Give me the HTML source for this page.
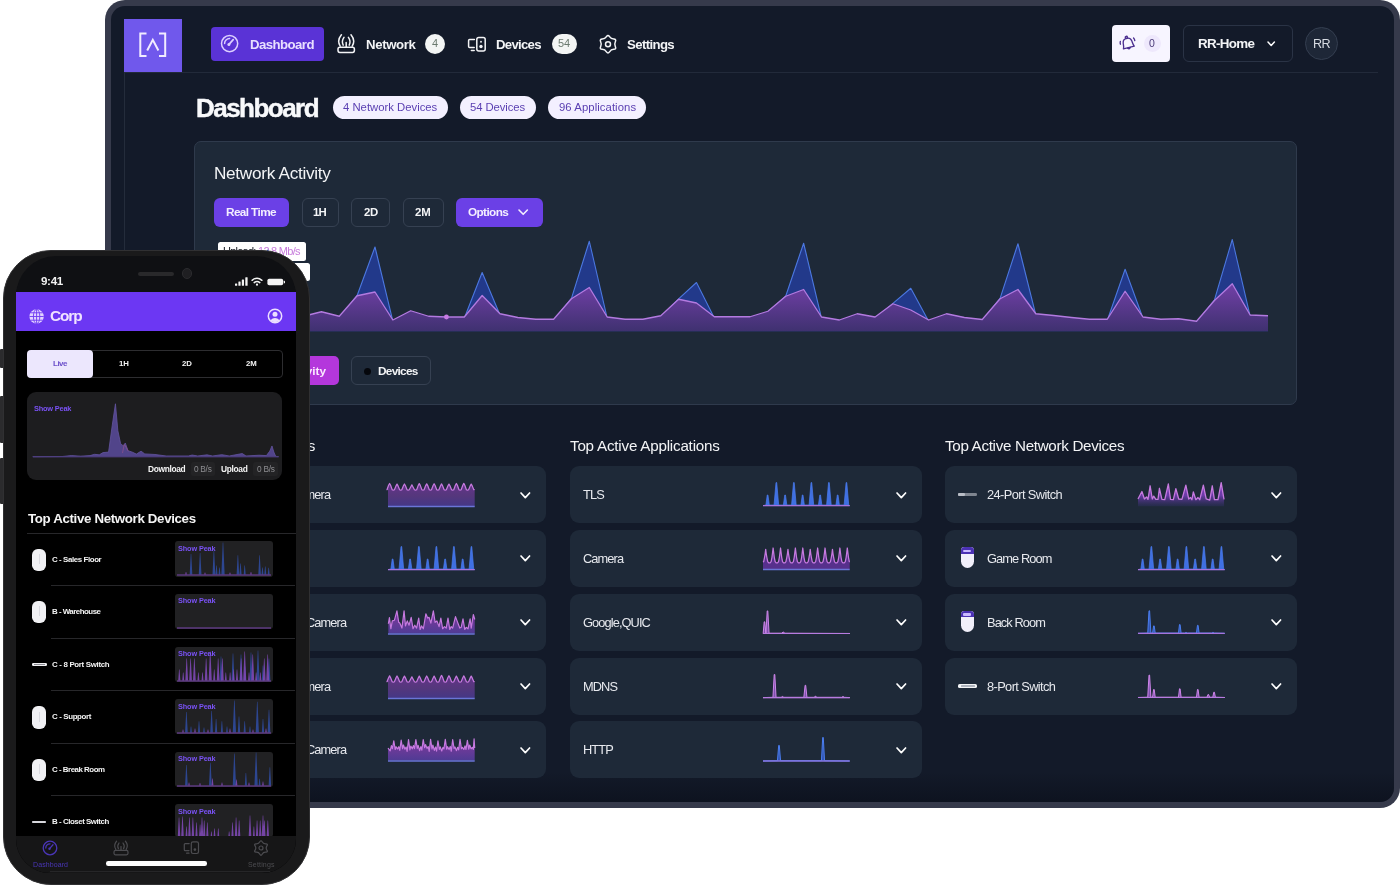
<!DOCTYPE html>
<html lang="en"><head><meta charset="utf-8"><title>Network Dashboard</title>
<style>
html,body{margin:0;padding:0;}
body{width:1400px;height:887px;position:relative;overflow:hidden;background:#fff;font-family:"Liberation Sans",sans-serif;}
.b{position:absolute;display:block;}
.t{position:absolute;white-space:nowrap;line-height:1;will-change:transform;}
#tablet,#phone,#pscreen{position:absolute;overflow:hidden;}
#root{position:absolute;left:0;top:0;width:1400px;height:887px;}
</style></head><body><div id="root">
<!-- tablet -->
<div class="b" style="left:105.30px;top:-0.50px;width:1294.50px;height:808.70px;background:#363a4b;border-radius:20px;"></div>
<div class="b" style="left:111.30px;top:6.20px;width:1282.70px;height:795.80px;background:#131a29;border-radius:14px;"></div>
<div class="b" style="left:111.30px;top:772.00px;width:1282.70px;height:30.00px;background:linear-gradient(rgba(9,13,24,0),rgba(9,13,24,0.55));border-radius:0 0 14px 14px;"></div>
<div class="b" style="left:124.00px;top:19.00px;width:57.50px;height:53.50px;background:#7058ec;"></div>
<div class="b" style="left:124.00px;top:72.00px;width:1254.00px;height:1.00px;background:#222a3a;"></div>
<div class="b" style="left:124.00px;top:72.00px;width:1.00px;height:200.00px;background:#242c3b;"></div>
<svg class="b" style="left:124.00px;top:19.60px;" width="57.50" height="53.50" viewBox="0 0 57.50 53.50">
<g fill="none" stroke="#f1ecff" stroke-width="2" stroke-linecap="square" stroke-linejoin="miter"><polyline points="21.5,13.5 16.3,13.5 16.3,36 21.5,36"/><polyline points="36,13.5 41.2,13.5 41.2,36 36,36"/><polyline points="23.2,30.5 28.8,19.8 34.4,30.5" stroke-linecap="butt"/></g>
</svg>
<div class="b" style="left:211.00px;top:27.00px;width:113.00px;height:33.50px;background:#5a33d6;border-radius:4px;"></div>
<svg class="b" style="left:219.00px;top:33.00px;" width="22.00" height="22.00" viewBox="0 0 22.00 22.00">
<g fill="none" stroke="#dccfff" stroke-width="1.5" stroke-linecap="round"><circle cx="10.6" cy="10.6" r="8.1"/><path d="M5.6,10.6 A5,5 0 0 1 10.6,5.6"/><line x1="10" y1="11.4" x2="14.2" y2="6.6" stroke-width="1.7"/></g><circle cx="9.9" cy="11.6" r="1.5" fill="#dccfff"/>
</svg>
<span class="t" style="left:249.50px;top:37.53px;font-size:13.2px;color:#e8dfff;font-weight:700;letter-spacing:-0.556px;">Dashboard</span>
<svg class="b" style="left:336.00px;top:34.00px;" width="20.00" height="20.00" viewBox="0 0 20.00 20.00">
<g fill="none" stroke="#f3f4f6" stroke-width="1.5" stroke-linecap="round"><rect x="2" y="13.2" width="16.4" height="5.2" rx="1.8"/><line x1="10.2" y1="8.6" x2="10.2" y2="13"/><path d="M5.4,0.8 Q0.6,6.6 4.2,12.2"/><path d="M15,0.8 Q19.8,6.6 16.2,12.2"/><path d="M8,3.4 Q5.2,7.2 7.2,11.2"/><path d="M12.4,3.4 Q15.2,7.2 13.2,11.2"/></g>
</svg>
<span class="t" style="left:366.00px;top:37.53px;font-size:13.2px;color:#f3f4f6;font-weight:700;letter-spacing:-0.347px;">Network</span>
<div class="b" style="left:425.00px;top:33.50px;width:20.00px;height:20.00px;background:#f3f5f4;border-radius:10px;"></div>
<span class="t" style="left:431.94px;top:38.29px;font-size:11px;color:#6b7a6f;">4</span>
<svg class="b" style="left:466.00px;top:34.00px;" width="22.00" height="20.00" viewBox="0 0 22.00 20.00">
<g fill="none" stroke="#f3f4f6" stroke-width="1.5" stroke-linecap="round" stroke-linejoin="round"><path d="M8.4,5.4 H3.6 Q2.6,5.4 2.6,6.4 V12.6 Q2.6,13.6 3.6,13.6 H8.2"/><line x1="5.4" y1="16.6" x2="8.2" y2="16.6"/><rect x="10.8" y="3.4" width="8.4" height="13.6" rx="2"/></g><circle cx="15" cy="7.8" r="0.95" fill="#f3f4f6"/><circle cx="15" cy="12.5" r="1.7" fill="#f3f4f6"/>
</svg>
<span class="t" style="left:496.40px;top:37.53px;font-size:13.2px;color:#f3f4f6;font-weight:700;letter-spacing:-0.718px;">Devices</span>
<div class="b" style="left:552.00px;top:33.50px;width:24.50px;height:20.00px;background:#f3f5f4;border-radius:10px;"></div>
<span class="t" style="left:558.08px;top:38.29px;font-size:11px;color:#6b7a6f;">54</span>
<svg class="b" style="left:597.00px;top:33.00px;" width="22.00" height="22.00" viewBox="0 0 22.00 22.00">
<path d="M9.47,3.61 Q11.00,1.30 12.52,3.61 Q14.05,5.92 16.81,6.08 Q19.57,6.25 18.34,8.72 Q17.10,11.20 18.34,13.67 Q19.57,16.15 16.81,16.32 Q14.05,16.48 12.52,18.79 Q11.00,21.10 9.48,18.79 Q7.95,16.48 5.19,16.32 Q2.43,16.15 3.66,13.68 Q4.90,11.20 3.66,8.72 Q2.43,6.25 5.19,6.08 Q7.95,5.92 9.47,3.61Z" fill="none" stroke="#f3f4f6" stroke-width="1.5" stroke-linejoin="round"/><circle cx="11" cy="11.2" r="2.5" fill="none" stroke="#f3f4f6" stroke-width="1.5"/>
</svg>
<span class="t" style="left:627.30px;top:37.53px;font-size:13.2px;color:#f3f4f6;font-weight:700;letter-spacing:-0.625px;">Settings</span>
<div class="b" style="left:1112.00px;top:25.00px;width:58.00px;height:37.00px;background:#f7f5ff;border-radius:4px;"></div>
<div class="b" style="left:1143.50px;top:34.80px;width:17.50px;height:17.50px;background:#eee8fc;border-radius:9px;"></div>
<svg class="b" style="left:1117.00px;top:33.00px;" width="22.00" height="22.00" viewBox="0 0 22.00 22.00">
<g transform="rotate(-14 11 11)" fill="none" stroke="#4b2f8f" stroke-width="1.35" stroke-linecap="round" stroke-linejoin="round"><path d="M5.4,14.6 C6.6,12.6 6.3,10.6 6.6,8.8 C7,6.4 8.8,5.2 11,5.2 C13.2,5.2 15,6.4 15.4,8.8 C15.7,10.6 15.4,12.6 16.6,14.6 Z"/><circle cx="11" cy="4.2" r="1.1"/><path d="M9.6,15 Q11,16.8 12.4,15"/><path d="M4.2,6.6 Q3.4,8 3.6,9.4"/><path d="M17.8,6.6 Q18.6,8 18.4,9.4"/></g>
</svg>
<span class="t" style="left:1149.38px;top:38.31px;font-size:10.5px;color:#4a3a78;">0</span>
<div class="b" style="left:1183.00px;top:25.00px;width:110.00px;height:37.00px;border-radius:6px;border:1px solid #2a3345;box-sizing:border-box;"></div>
<span class="t" style="left:1198.30px;top:37.06px;font-size:13.4px;color:#f3f4f6;font-weight:700;letter-spacing:-0.675px;">RR-Home</span>
<svg class="b" style="left:1266.30px;top:39.90px;" width="10.40" height="7.40" viewBox="0 0 10.40 7.40">
<polyline points="2,2 5.20,5.40 8.40,2" fill="none" stroke="#fff" stroke-width="1.5" stroke-linecap="round" stroke-linejoin="round"/>
</svg>
<div class="b" style="left:1305.40px;top:27.40px;width:32.60px;height:32.60px;background:#1e2737;border-radius:17px;border:1px solid #343e50;box-sizing:border-box;"></div>
<span class="t" style="left:1312.95px;top:37.63px;font-size:12.6px;color:#d7dbe2;letter-spacing:-0.699px;">RR</span>
<span class="t" style="left:195.60px;top:94.59px;font-size:26px;color:#f8f9fb;font-weight:700;letter-spacing:-1.526px;-webkit-text-stroke:0.45px #f8f9fb;">Dashboard</span>
<div class="b" style="left:333.40px;top:96.00px;width:114.60px;height:23.00px;background:#f3f0ff;border-radius:11.5px;"></div>
<span class="t" style="left:343.40px;top:101.93px;font-size:11.3px;color:#5a3fb2;letter-spacing:0.006px;">4 Network Devices</span>
<div class="b" style="left:460.30px;top:96.00px;width:75.40px;height:23.00px;background:#f3f0ff;border-radius:11.5px;"></div>
<span class="t" style="left:470.20px;top:101.93px;font-size:11.3px;color:#5a3fb2;letter-spacing:-0.078px;">54 Devices</span>
<div class="b" style="left:548.40px;top:96.00px;width:97.60px;height:23.00px;background:#f3f0ff;border-radius:11.5px;"></div>
<span class="t" style="left:558.70px;top:101.93px;font-size:11.3px;color:#5a3fb2;letter-spacing:0.077px;">96 Applications</span>
<div class="b" style="left:194.40px;top:141.30px;width:1102.40px;height:263.70px;background:#1e2938;border-radius:7px;border:1px solid #2f3a4c;box-sizing:border-box;"></div>
<span class="t" style="left:214.40px;top:165.34px;font-size:17.2px;color:#f3f4f6;letter-spacing:-0.299px;">Network Activity</span>
<div class="b" style="left:214.40px;top:198.00px;width:75.00px;height:29.00px;background:#6b40e6;border-radius:6px;"></div>
<span class="t" style="left:226.40px;top:206.71px;font-size:11.8px;color:#f3eeff;font-weight:700;letter-spacing:-0.616px;">Real Time</span>
<div class="b" style="left:301.60px;top:198.00px;width:37.10px;height:29.00px;border-radius:6px;border:1px solid #364152;box-sizing:border-box;"></div>
<span class="t" style="left:313.26px;top:207.05px;font-size:11.4px;color:#f3f4f6;font-weight:700;letter-spacing:-0.798px;">1H</span>
<div class="b" style="left:351.30px;top:198.00px;width:38.80px;height:29.00px;border-radius:6px;border:1px solid #364152;box-sizing:border-box;"></div>
<span class="t" style="left:363.55px;top:207.05px;font-size:11.4px;color:#f3f4f6;font-weight:700;letter-spacing:-0.273px;">2D</span>
<div class="b" style="left:402.70px;top:198.00px;width:40.90px;height:29.00px;border-radius:6px;border:1px solid #364152;box-sizing:border-box;"></div>
<span class="t" style="left:415.30px;top:207.05px;font-size:11.4px;color:#f3f4f6;font-weight:700;letter-spacing:-0.137px;">2M</span>
<div class="b" style="left:455.90px;top:198.00px;width:87.10px;height:29.00px;background:#6b40e6;border-radius:6px;"></div>
<span class="t" style="left:467.90px;top:206.71px;font-size:11.8px;color:#f3eeff;font-weight:700;letter-spacing:-0.629px;">Options</span>
<svg class="b" style="left:517.10px;top:208.45px;" width="12.40" height="8.30" viewBox="0 0 12.40 8.30">
<polyline points="2,2 6.20,6.30 10.40,2" fill="none" stroke="#f3eeff" stroke-width="1.6" stroke-linecap="round" stroke-linejoin="round"/>
</svg>
<div class="b" style="left:217.50px;top:242.00px;width:88.50px;height:19.00px;background:#ffffff;border-radius:2.5px;"></div>
<span class="t" style="left:222.50px;top:246.09px;font-size:11px;color:#151a24;letter-spacing:-0.770px;">Upload:</span>
<span class="t" style="left:258.00px;top:246.09px;font-size:11px;color:#c77bdc;letter-spacing:-0.725px;">12.8 Mb/s</span>
<div class="b" style="left:217.50px;top:263.00px;width:92.50px;height:17.50px;background:#ffffff;border-radius:2.5px;"></div>
<svg class="b" style="left:210.00px;top:232.00px;" width="1062.00" height="104.00" viewBox="0 0 1062.00 104.00">
<defs><linearGradient id="gu" x1="0" y1="0" x2="0" y2="1"><stop offset="0" stop-color="#7240a8"/><stop offset="1" stop-color="#3f3170"/></linearGradient></defs>
<polygon points="4.25,99.25 4.25,87.20 22.11,85.20 39.97,69.20 57.83,18.00 75.69,88.20 93.55,85.45 111.41,80.95 129.27,86.30 147.13,63.45 164.99,15.00 182.85,89.20 200.71,79.95 218.57,86.80 236.43,86.20 254.29,86.20 272.15,40.50 290.01,82.95 307.87,86.70 325.73,88.45 343.59,88.45 361.45,66.45 379.31,9.25 397.17,86.20 415.03,88.45 432.89,88.45 450.75,84.95 468.61,66.95 486.47,50.50 504.33,85.95 522.19,85.95 540.05,85.95 557.91,80.45 575.77,63.95 593.63,11.25 611.49,86.20 629.35,89.20 647.21,82.95 665.07,86.80 682.93,71.45 700.79,56.25 718.65,89.20 736.51,82.95 754.37,86.70 772.23,88.70 790.09,66.45 807.95,11.75 825.81,82.95 843.67,84.70 861.53,86.70 879.39,88.45 897.25,88.45 915.11,37.25 932.97,86.20 950.83,88.45 968.69,87.95 986.55,90.45 1004.41,68.20 1022.27,7.50 1040.13,84.20 1057.99,84.95 1057.99,99.25" fill="#22398a"/>
<polyline points="4.25,87.20 22.11,85.20 39.97,69.20 57.83,18.00 75.69,88.20 93.55,85.45 111.41,80.95 129.27,86.30 147.13,63.45 164.99,15.00 182.85,89.20 200.71,79.95 218.57,86.80 236.43,86.20 254.29,86.20 272.15,40.50 290.01,82.95 307.87,86.70 325.73,88.45 343.59,88.45 361.45,66.45 379.31,9.25 397.17,86.20 415.03,88.45 432.89,88.45 450.75,84.95 468.61,66.95 486.47,50.50 504.33,85.95 522.19,85.95 540.05,85.95 557.91,80.45 575.77,63.95 593.63,11.25 611.49,86.20 629.35,89.20 647.21,82.95 665.07,86.80 682.93,71.45 700.79,56.25 718.65,89.20 736.51,82.95 754.37,86.70 772.23,88.70 790.09,66.45 807.95,11.75 825.81,82.95 843.67,84.70 861.53,86.70 879.39,88.45 897.25,88.45 915.11,37.25 932.97,86.20 950.83,88.45 968.69,87.95 986.55,90.45 1004.41,68.20 1022.27,7.50 1040.13,84.20 1057.99,84.95" fill="none" stroke="#4c78e0" stroke-width="1.1" stroke-linejoin="round"/>
<polygon points="4.25,99.25 4.25,86.00 22.11,84.00 39.97,68.00 57.83,62.00 75.69,87.00 93.55,84.25 111.41,79.75 129.27,84.25 147.13,63.75 164.99,60.00 182.85,88.00 200.71,78.75 218.57,84.25 236.43,85.00 254.29,85.00 272.15,63.50 290.01,81.75 307.87,85.50 325.73,87.25 343.59,87.25 361.45,66.75 379.31,55.50 397.17,85.00 415.03,87.25 432.89,87.25 450.75,83.75 468.61,67.25 486.47,71.00 504.33,84.75 522.19,84.75 540.05,84.75 557.91,79.25 575.77,64.25 593.63,57.50 611.49,85.00 629.35,88.00 647.21,81.75 665.07,85.00 682.93,71.75 700.79,78.00 718.65,88.00 736.51,81.75 754.37,85.50 772.23,87.50 790.09,66.75 807.95,57.50 825.81,81.75 843.67,83.50 861.53,85.50 879.39,87.25 897.25,87.25 915.11,59.25 932.97,85.00 950.83,87.25 968.69,86.75 986.55,89.25 1004.41,68.50 1022.27,51.75 1040.13,83.00 1057.99,83.75 1057.99,99.25" fill="url(#gu)"/>
<polyline points="4.25,86.00 22.11,84.00 39.97,68.00 57.83,62.00 75.69,87.00 93.55,84.25 111.41,79.75 129.27,84.25 147.13,63.75 164.99,60.00 182.85,88.00 200.71,78.75 218.57,84.25 236.43,85.00 254.29,85.00 272.15,63.50 290.01,81.75 307.87,85.50 325.73,87.25 343.59,87.25 361.45,66.75 379.31,55.50 397.17,85.00 415.03,87.25 432.89,87.25 450.75,83.75 468.61,67.25 486.47,71.00 504.33,84.75 522.19,84.75 540.05,84.75 557.91,79.25 575.77,64.25 593.63,57.50 611.49,85.00 629.35,88.00 647.21,81.75 665.07,85.00 682.93,71.75 700.79,78.00 718.65,88.00 736.51,81.75 754.37,85.50 772.23,87.50 790.09,66.75 807.95,57.50 825.81,81.75 843.67,83.50 861.53,85.50 879.39,87.25 897.25,87.25 915.11,59.25 932.97,85.00 950.83,87.25 968.69,86.75 986.55,89.25 1004.41,68.50 1022.27,51.75 1040.13,83.00 1057.99,83.75" fill="none" stroke="#b37ae0" stroke-width="1.3" stroke-linejoin="round"/>
<circle cx="236.43" cy="85.00" r="2.4" fill="#c77be3"/>
</svg>
<div class="b" style="left:214.40px;top:356.40px;width:124.50px;height:28.60px;background:#b437dc;border-radius:5px;"></div>
<span class="t" style="left:234.38px;top:366.01px;font-size:11.8px;color:#fbeaff;font-weight:700;">Network Activity</span>
<div class="b" style="left:351.10px;top:356.40px;width:79.60px;height:28.60px;border-radius:6px;border:1px solid #364152;box-sizing:border-box;"></div>
<div class="b" style="left:363.60px;top:367.60px;width:7.00px;height:7.00px;background:#05070c;border-radius:4px;"></div>
<span class="t" style="left:377.90px;top:366.01px;font-size:11.8px;color:#f3f4f6;font-weight:700;letter-spacing:-0.702px;">Devices</span>
<!-- lists -->
<span class="t" style="left:194.40px;top:437.93px;font-size:15.2px;color:#f3f4f6;letter-spacing:-0.357px;">Top Active Devices</span>
<span class="t" style="left:570.00px;top:437.93px;font-size:15.2px;color:#f3f4f6;letter-spacing:-0.211px;">Top Active Applications</span>
<span class="t" style="left:945.30px;top:437.93px;font-size:15.2px;color:#f3f4f6;letter-spacing:-0.314px;">Top Active Network Devices</span>
<div class="b" style="left:194.40px;top:466.30px;width:351.50px;height:57.00px;background:#1e2938;border-radius:9px;"></div>
<svg class="b" style="left:519.10px;top:490.60px;" width="12.60" height="8.60" viewBox="0 0 12.60 8.60">
<polyline points="2,2 6.30,6.60 10.60,2" fill="none" stroke="#fff" stroke-width="1.7" stroke-linecap="round" stroke-linejoin="round"/>
</svg>
<div class="b" style="left:194.40px;top:530.05px;width:351.50px;height:57.00px;background:#1e2938;border-radius:9px;"></div>
<svg class="b" style="left:519.10px;top:554.35px;" width="12.60" height="8.60" viewBox="0 0 12.60 8.60">
<polyline points="2,2 6.30,6.60 10.60,2" fill="none" stroke="#fff" stroke-width="1.7" stroke-linecap="round" stroke-linejoin="round"/>
</svg>
<div class="b" style="left:194.40px;top:593.80px;width:351.50px;height:57.00px;background:#1e2938;border-radius:9px;"></div>
<svg class="b" style="left:519.10px;top:618.10px;" width="12.60" height="8.60" viewBox="0 0 12.60 8.60">
<polyline points="2,2 6.30,6.60 10.60,2" fill="none" stroke="#fff" stroke-width="1.7" stroke-linecap="round" stroke-linejoin="round"/>
</svg>
<div class="b" style="left:194.40px;top:657.55px;width:351.50px;height:57.00px;background:#1e2938;border-radius:9px;"></div>
<svg class="b" style="left:519.10px;top:681.85px;" width="12.60" height="8.60" viewBox="0 0 12.60 8.60">
<polyline points="2,2 6.30,6.60 10.60,2" fill="none" stroke="#fff" stroke-width="1.7" stroke-linecap="round" stroke-linejoin="round"/>
</svg>
<div class="b" style="left:194.40px;top:721.30px;width:351.50px;height:57.00px;background:#1e2938;border-radius:9px;"></div>
<svg class="b" style="left:519.10px;top:745.60px;" width="12.60" height="8.60" viewBox="0 0 12.60 8.60">
<polyline points="2,2 6.30,6.60 10.60,2" fill="none" stroke="#fff" stroke-width="1.7" stroke-linecap="round" stroke-linejoin="round"/>
</svg>
<span class="t" style="left:289.95px;top:489.26px;font-size:12.8px;color:#e7e9ee;letter-spacing:-0.896px;">Camera</span>
<span class="t" style="left:306.15px;top:616.76px;font-size:12.8px;color:#e7e9ee;letter-spacing:-0.896px;">Camera</span>
<span class="t" style="left:289.95px;top:680.51px;font-size:12.8px;color:#e7e9ee;letter-spacing:-0.896px;">Camera</span>
<span class="t" style="left:306.15px;top:744.26px;font-size:12.8px;color:#e7e9ee;letter-spacing:-0.896px;">Camera</span>
<svg class="b" style="left:385.50px;top:474.30px;" width="90.70" height="40.00" viewBox="0 0 90.70 40.00">
<g transform="translate(2,-8)">
<defs><linearGradient id="g1" x1="0" y1="0" x2="0" y2="1"><stop offset="0" stop-color="#65348a"/><stop offset="0.55" stop-color="#55377c"/><stop offset="1" stop-color="#443786"/></linearGradient></defs>
<polygon points="0.00,40.40 0.00,22.50 -1.00,23.70 0.60,19.31 1.60,17.51 2.60,19.31 4.20,23.70 5.30,24.20 6.42,23.70 8.02,19.88 9.02,18.08 10.02,19.88 11.62,23.70 12.72,24.20 13.84,23.70 15.44,19.81 16.44,18.01 17.44,19.81 19.04,23.70 20.14,24.20 21.26,23.70 22.86,20.70 23.86,18.90 24.86,20.70 26.46,23.70 27.56,24.20 28.68,23.70 30.28,19.40 31.28,17.60 32.28,19.40 33.88,23.70 34.98,24.20 36.10,23.70 37.70,19.60 38.70,17.80 39.70,19.60 41.30,23.70 42.40,24.20 43.52,23.70 45.12,19.56 46.12,17.76 47.12,19.56 48.72,23.70 49.82,24.20 50.94,23.70 52.54,19.72 53.54,17.92 54.54,19.72 56.14,23.70 57.24,24.20 58.36,23.70 59.96,19.83 60.96,18.03 61.96,19.83 63.56,23.70 64.66,24.20 65.78,23.70 67.38,19.28 68.38,17.48 69.38,19.28 70.98,23.70 72.08,24.20 73.20,23.70 74.80,19.22 75.80,17.42 76.80,19.22 78.40,23.70 79.50,24.20 80.62,23.70 82.22,19.87 83.22,18.07 84.22,19.87 85.82,23.70 86.70,23.50 86.70,40.40" fill="url(#g1)"/>
<polyline points="0.00,22.50 -1.00,23.70 0.60,19.31 1.60,17.51 2.60,19.31 4.20,23.70 5.30,24.20 6.42,23.70 8.02,19.88 9.02,18.08 10.02,19.88 11.62,23.70 12.72,24.20 13.84,23.70 15.44,19.81 16.44,18.01 17.44,19.81 19.04,23.70 20.14,24.20 21.26,23.70 22.86,20.70 23.86,18.90 24.86,20.70 26.46,23.70 27.56,24.20 28.68,23.70 30.28,19.40 31.28,17.60 32.28,19.40 33.88,23.70 34.98,24.20 36.10,23.70 37.70,19.60 38.70,17.80 39.70,19.60 41.30,23.70 42.40,24.20 43.52,23.70 45.12,19.56 46.12,17.76 47.12,19.56 48.72,23.70 49.82,24.20 50.94,23.70 52.54,19.72 53.54,17.92 54.54,19.72 56.14,23.70 57.24,24.20 58.36,23.70 59.96,19.83 60.96,18.03 61.96,19.83 63.56,23.70 64.66,24.20 65.78,23.70 67.38,19.28 68.38,17.48 69.38,19.28 70.98,23.70 72.08,24.20 73.20,23.70 74.80,19.22 75.80,17.42 76.80,19.22 78.40,23.70 79.50,24.20 80.62,23.70 82.22,19.87 83.22,18.07 84.22,19.87 85.82,23.70 86.70,23.50" fill="none" stroke="#c67adf" stroke-width="1.25" stroke-linejoin="round"/>
<line x1="0" y1="40.4" x2="86.7" y2="40.4" stroke="#6a75d6" stroke-width="1.5"/>
</g>
</svg>
<svg class="b" style="left:385.50px;top:538.05px;" width="90.70" height="40.00" viewBox="0 0 90.70 40.00">
<g transform="translate(2,-8)">
<polygon points="0.00,39.60 2.90,39.00 4.25,29.00 4.95,29.00 6.30,39.00 11.06,39.00 13.01,16.60 13.71,16.60 15.66,39.00 20.42,39.00 21.77,29.00 22.47,29.00 23.82,39.00 28.58,39.00 30.53,16.60 31.23,16.60 33.18,39.00 37.94,39.00 39.29,29.00 39.99,29.00 41.34,39.00 46.10,39.00 48.05,16.60 48.75,16.60 50.70,39.00 55.46,39.00 56.81,29.00 57.51,29.00 58.86,39.00 63.62,39.00 65.57,16.60 66.27,16.60 68.22,39.00 72.98,39.00 74.33,29.00 75.03,29.00 76.38,39.00 81.14,39.00 83.09,16.60 83.79,16.60 85.74,39.00 86.70,39.60" fill="#3f6fe2" stroke="#4a7df0" stroke-width="0.7" stroke-linejoin="round"/>
<line x1="0" y1="39.6" x2="86.7" y2="39.6" stroke="#a673dc" stroke-width="1.2"/>
</g>
</svg>
<svg class="b" style="left:385.50px;top:601.80px;" width="90.70" height="40.00" viewBox="0 0 90.70 40.00">
<g transform="translate(2,-8)">
<defs><linearGradient id="g3" x1="0" y1="0" x2="0" y2="1"><stop offset="0" stop-color="#7a2fa8"/><stop offset="0.5" stop-color="#6a3a98"/><stop offset="1" stop-color="#4f3b94"/></linearGradient></defs>
<polygon points="0.36,39.60 0.36,29.77 1.43,23.70 2.86,34.77 4.29,26.91 6.43,26.20 8.93,16.91 10.71,28.34 11.79,29.06 13.93,34.06 16.07,16.91 17.50,31.91 19.29,26.91 21.07,31.20 23.21,23.34 25.00,34.77 26.79,31.20 28.57,34.06 30.71,24.06 32.14,35.49 33.57,31.91 35.36,34.77 37.86,19.77 39.64,24.06 41.07,23.34 42.86,29.06 45.36,16.91 47.14,28.34 48.93,26.91 51.07,32.63 52.86,24.06 54.64,34.77 56.43,32.63 58.21,34.06 60.00,24.06 61.79,35.49 63.21,32.63 64.64,34.06 67.50,22.63 69.64,28.34 71.79,34.06 73.21,33.34 75.00,24.77 76.79,35.49 78.21,33.34 80.00,34.77 82.14,24.77 83.21,34.06 85.36,20.49 86.79,25.49 86.79,39.60" fill="url(#g3)"/>
<polyline points="0.36,29.77 1.43,23.70 2.86,34.77 4.29,26.91 6.43,26.20 8.93,16.91 10.71,28.34 11.79,29.06 13.93,34.06 16.07,16.91 17.50,31.91 19.29,26.91 21.07,31.20 23.21,23.34 25.00,34.77 26.79,31.20 28.57,34.06 30.71,24.06 32.14,35.49 33.57,31.91 35.36,34.77 37.86,19.77 39.64,24.06 41.07,23.34 42.86,29.06 45.36,16.91 47.14,28.34 48.93,26.91 51.07,32.63 52.86,24.06 54.64,34.77 56.43,32.63 58.21,34.06 60.00,24.06 61.79,35.49 63.21,32.63 64.64,34.06 67.50,22.63 69.64,28.34 71.79,34.06 73.21,33.34 75.00,24.77 76.79,35.49 78.21,33.34 80.00,34.77 82.14,24.77 83.21,34.06 85.36,20.49 86.79,25.49" fill="none" stroke="#c67adf" stroke-width="1.2" stroke-linejoin="round"/>
<line x1="0" y1="39.9" x2="86.7" y2="39.9" stroke="#6a75d6" stroke-width="1.5"/>
</g>
</svg>
<svg class="b" style="left:385.50px;top:665.55px;" width="90.70" height="40.00" viewBox="0 0 90.70 40.00">
<g transform="translate(2,-8)">
<defs><linearGradient id="g4" x1="0" y1="0" x2="0" y2="1"><stop offset="0" stop-color="#65348a"/><stop offset="0.55" stop-color="#55377c"/><stop offset="1" stop-color="#443786"/></linearGradient></defs>
<polygon points="0.00,40.40 0.00,22.50 -1.00,23.70 0.60,19.70 1.60,17.90 2.60,19.70 4.20,23.70 5.30,24.20 6.42,23.70 8.02,19.79 9.02,17.99 10.02,19.79 11.62,23.70 12.72,24.20 13.84,23.70 15.44,19.84 16.44,18.04 17.44,19.84 19.04,23.70 20.14,24.20 21.26,23.70 22.86,20.70 23.86,18.90 24.86,20.70 26.46,23.70 27.56,24.20 28.68,23.70 30.28,19.95 31.28,18.15 32.28,19.95 33.88,23.70 34.98,24.20 36.10,23.70 37.70,19.79 38.70,17.99 39.70,19.79 41.30,23.70 42.40,24.20 43.52,23.70 45.12,19.94 46.12,18.14 47.12,19.94 48.72,23.70 49.82,24.20 50.94,23.70 52.54,19.22 53.54,17.42 54.54,19.22 56.14,23.70 57.24,24.20 58.36,23.70 59.96,19.57 60.96,17.77 61.96,19.57 63.56,23.70 64.66,24.20 65.78,23.70 67.38,19.95 68.38,18.15 69.38,19.95 70.98,23.70 72.08,24.20 73.20,23.70 74.80,19.72 75.80,17.92 76.80,19.72 78.40,23.70 79.50,24.20 80.62,23.70 82.22,19.92 83.22,18.12 84.22,19.92 85.82,23.70 86.70,23.50 86.70,40.40" fill="url(#g4)"/>
<polyline points="0.00,22.50 -1.00,23.70 0.60,19.70 1.60,17.90 2.60,19.70 4.20,23.70 5.30,24.20 6.42,23.70 8.02,19.79 9.02,17.99 10.02,19.79 11.62,23.70 12.72,24.20 13.84,23.70 15.44,19.84 16.44,18.04 17.44,19.84 19.04,23.70 20.14,24.20 21.26,23.70 22.86,20.70 23.86,18.90 24.86,20.70 26.46,23.70 27.56,24.20 28.68,23.70 30.28,19.95 31.28,18.15 32.28,19.95 33.88,23.70 34.98,24.20 36.10,23.70 37.70,19.79 38.70,17.99 39.70,19.79 41.30,23.70 42.40,24.20 43.52,23.70 45.12,19.94 46.12,18.14 47.12,19.94 48.72,23.70 49.82,24.20 50.94,23.70 52.54,19.22 53.54,17.42 54.54,19.22 56.14,23.70 57.24,24.20 58.36,23.70 59.96,19.57 60.96,17.77 61.96,19.57 63.56,23.70 64.66,24.20 65.78,23.70 67.38,19.95 68.38,18.15 69.38,19.95 70.98,23.70 72.08,24.20 73.20,23.70 74.80,19.72 75.80,17.92 76.80,19.72 78.40,23.70 79.50,24.20 80.62,23.70 82.22,19.92 83.22,18.12 84.22,19.92 85.82,23.70 86.70,23.50" fill="none" stroke="#c67adf" stroke-width="1.25" stroke-linejoin="round"/>
<line x1="0" y1="40.4" x2="86.7" y2="40.4" stroke="#6a75d6" stroke-width="1.5"/>
</g>
</svg>
<svg class="b" style="left:385.50px;top:729.30px;" width="90.70" height="40.00" viewBox="0 0 90.70 40.00">
<g transform="translate(2,-8)">
<defs><linearGradient id="g5" x1="0" y1="0" x2="0" y2="1"><stop offset="0" stop-color="#7a2fa8"/><stop offset="0.5" stop-color="#6a3a98"/><stop offset="1" stop-color="#4f3b94"/></linearGradient></defs>
<polygon points="0.00,39.60 0.00,27.00 2.20,29.84 3.40,24.61 4.40,27.75 5.80,19.89 7.20,28.51 8.10,25.71 9.56,27.92 10.76,25.71 11.76,29.32 13.16,19.21 14.56,27.74 15.46,23.98 16.92,28.18 18.12,25.95 19.12,30.48 20.52,18.63 21.92,28.85 22.82,25.13 24.28,27.80 25.48,24.57 26.48,27.58 27.88,18.67 29.28,27.39 30.18,24.46 31.64,29.68 32.84,25.55 33.84,29.18 35.24,18.51 36.64,26.71 37.54,23.57 39.00,27.41 40.20,25.52 41.20,30.50 42.60,18.38 44.00,28.02 44.90,24.05 46.36,29.39 47.56,25.97 48.56,30.22 49.96,19.74 51.36,28.29 52.26,25.87 53.72,29.94 54.92,26.42 55.92,27.98 57.32,18.45 58.72,28.26 59.62,25.65 61.08,28.59 62.28,25.48 63.28,30.27 64.68,18.71 66.08,27.50 66.98,25.99 68.44,29.65 69.64,26.30 70.64,28.88 72.04,18.45 73.44,27.70 74.34,26.26 75.80,28.46 77.00,24.94 78.00,28.47 79.40,19.34 80.80,28.10 81.70,24.00 83.16,27.80 84.36,26.32 85.36,28.43 86.10,17.80 86.70,27.00 86.70,39.60" fill="url(#g5)"/>
<polyline points="0.00,27.00 2.20,29.84 3.40,24.61 4.40,27.75 5.80,19.89 7.20,28.51 8.10,25.71 9.56,27.92 10.76,25.71 11.76,29.32 13.16,19.21 14.56,27.74 15.46,23.98 16.92,28.18 18.12,25.95 19.12,30.48 20.52,18.63 21.92,28.85 22.82,25.13 24.28,27.80 25.48,24.57 26.48,27.58 27.88,18.67 29.28,27.39 30.18,24.46 31.64,29.68 32.84,25.55 33.84,29.18 35.24,18.51 36.64,26.71 37.54,23.57 39.00,27.41 40.20,25.52 41.20,30.50 42.60,18.38 44.00,28.02 44.90,24.05 46.36,29.39 47.56,25.97 48.56,30.22 49.96,19.74 51.36,28.29 52.26,25.87 53.72,29.94 54.92,26.42 55.92,27.98 57.32,18.45 58.72,28.26 59.62,25.65 61.08,28.59 62.28,25.48 63.28,30.27 64.68,18.71 66.08,27.50 66.98,25.99 68.44,29.65 69.64,26.30 70.64,28.88 72.04,18.45 73.44,27.70 74.34,26.26 75.80,28.46 77.00,24.94 78.00,28.47 79.40,19.34 80.80,28.10 81.70,24.00 83.16,27.80 84.36,26.32 85.36,28.43 86.10,17.80 86.70,27.00" fill="none" stroke="#c67adf" stroke-width="1.2" stroke-linejoin="round"/>
<line x1="0" y1="39.9" x2="86.7" y2="39.9" stroke="#6a75d6" stroke-width="1.5"/>
</g>
</svg>
<div class="b" style="left:570.00px;top:466.30px;width:351.50px;height:57.00px;background:#1e2938;border-radius:9px;"></div>
<svg class="b" style="left:894.70px;top:490.60px;" width="12.60" height="8.60" viewBox="0 0 12.60 8.60">
<polyline points="2,2 6.30,6.60 10.60,2" fill="none" stroke="#fff" stroke-width="1.7" stroke-linecap="round" stroke-linejoin="round"/>
</svg>
<span class="t" style="left:583.00px;top:489.26px;font-size:12.8px;color:#e7e9ee;letter-spacing:-0.896px;">TLS</span>
<div class="b" style="left:570.00px;top:530.05px;width:351.50px;height:57.00px;background:#1e2938;border-radius:9px;"></div>
<svg class="b" style="left:894.70px;top:554.35px;" width="12.60" height="8.60" viewBox="0 0 12.60 8.60">
<polyline points="2,2 6.30,6.60 10.60,2" fill="none" stroke="#fff" stroke-width="1.7" stroke-linecap="round" stroke-linejoin="round"/>
</svg>
<span class="t" style="left:583.00px;top:553.01px;font-size:12.8px;color:#e7e9ee;letter-spacing:-0.896px;">Camera</span>
<div class="b" style="left:570.00px;top:593.80px;width:351.50px;height:57.00px;background:#1e2938;border-radius:9px;"></div>
<svg class="b" style="left:894.70px;top:618.10px;" width="12.60" height="8.60" viewBox="0 0 12.60 8.60">
<polyline points="2,2 6.30,6.60 10.60,2" fill="none" stroke="#fff" stroke-width="1.7" stroke-linecap="round" stroke-linejoin="round"/>
</svg>
<span class="t" style="left:583.00px;top:616.76px;font-size:12.8px;color:#e7e9ee;letter-spacing:-0.896px;">Google,QUIC</span>
<div class="b" style="left:570.00px;top:657.55px;width:351.50px;height:57.00px;background:#1e2938;border-radius:9px;"></div>
<svg class="b" style="left:894.70px;top:681.85px;" width="12.60" height="8.60" viewBox="0 0 12.60 8.60">
<polyline points="2,2 6.30,6.60 10.60,2" fill="none" stroke="#fff" stroke-width="1.7" stroke-linecap="round" stroke-linejoin="round"/>
</svg>
<span class="t" style="left:583.00px;top:680.51px;font-size:12.8px;color:#e7e9ee;letter-spacing:-0.896px;">MDNS</span>
<div class="b" style="left:570.00px;top:721.30px;width:351.50px;height:57.00px;background:#1e2938;border-radius:9px;"></div>
<svg class="b" style="left:894.70px;top:745.60px;" width="12.60" height="8.60" viewBox="0 0 12.60 8.60">
<polyline points="2,2 6.30,6.60 10.60,2" fill="none" stroke="#fff" stroke-width="1.7" stroke-linecap="round" stroke-linejoin="round"/>
</svg>
<span class="t" style="left:583.00px;top:744.26px;font-size:12.8px;color:#e7e9ee;letter-spacing:-0.896px;">HTTP</span>
<svg class="b" style="left:761.10px;top:474.30px;" width="90.70" height="40.00" viewBox="0 0 90.70 40.00">
<g transform="translate(2,-8)">
<polygon points="0.00,39.60 2.90,39.00 4.25,29.00 4.95,29.00 6.30,39.00 11.06,39.00 13.01,16.60 13.71,16.60 15.66,39.00 20.42,39.00 21.77,29.00 22.47,29.00 23.82,39.00 28.58,39.00 30.53,16.60 31.23,16.60 33.18,39.00 37.94,39.00 39.29,29.00 39.99,29.00 41.34,39.00 46.10,39.00 48.05,16.60 48.75,16.60 50.70,39.00 55.46,39.00 56.81,29.00 57.51,29.00 58.86,39.00 63.62,39.00 65.57,16.60 66.27,16.60 68.22,39.00 72.98,39.00 74.33,29.00 75.03,29.00 76.38,39.00 81.14,39.00 83.09,16.60 83.79,16.60 85.74,39.00 86.70,39.60" fill="#3f6fe2" stroke="#4a7df0" stroke-width="0.7" stroke-linejoin="round"/>
<line x1="0" y1="39.6" x2="86.7" y2="39.6" stroke="#a673dc" stroke-width="1.2"/>
</g>
</svg>
<svg class="b" style="left:761.10px;top:538.05px;" width="90.70" height="40.00" viewBox="0 0 90.70 40.00">
<g transform="translate(2,-8)">
<polygon points="0.00,39.40 0.00,32.00 0.70,31.60 1.55,27.30 2.15,23.80 2.70,19.30 3.25,23.80 3.85,27.30 4.70,31.60 5.70,32.80 7.10,32.80 8.12,31.60 8.97,27.30 9.57,22.50 10.12,18.00 10.67,22.50 11.27,27.30 12.12,31.60 13.12,32.80 14.52,32.80 15.54,31.60 16.39,27.30 16.99,22.50 17.54,18.00 18.09,22.50 18.69,27.30 19.54,31.60 20.54,32.80 21.94,32.80 22.96,31.60 23.81,27.30 24.41,23.80 24.96,19.30 25.51,23.80 26.11,27.30 26.96,31.60 27.96,32.80 29.36,32.80 30.38,31.60 31.23,27.30 31.83,22.50 32.38,18.00 32.93,22.50 33.53,27.30 34.38,31.60 35.38,32.80 36.78,32.80 37.80,31.60 38.65,27.30 39.25,22.50 39.80,18.00 40.35,22.50 40.95,27.30 41.80,31.60 42.80,32.80 44.20,32.80 45.22,31.60 46.07,27.30 46.67,23.80 47.22,19.30 47.77,23.80 48.37,27.30 49.22,31.60 50.22,32.80 51.62,32.80 52.64,31.60 53.49,27.30 54.09,22.50 54.64,18.00 55.19,22.50 55.79,27.30 56.64,31.60 57.64,32.80 59.04,32.80 60.06,31.60 60.91,27.30 61.51,22.50 62.06,18.00 62.61,22.50 63.21,27.30 64.06,31.60 65.06,32.80 66.46,32.80 67.48,31.60 68.33,27.30 68.93,23.80 69.48,19.30 70.03,23.80 70.63,27.30 71.48,31.60 72.48,32.80 73.88,32.80 74.90,31.60 75.75,27.30 76.35,22.50 76.90,18.00 77.45,22.50 78.05,27.30 78.90,31.60 79.90,32.80 81.30,32.80 82.32,31.60 83.17,27.30 83.77,22.50 84.32,18.00 84.87,22.50 85.47,27.30 86.32,31.60 86.70,32.00 86.70,39.40" fill="#57308c"/>
<polyline points="0.00,32.00 0.70,31.60 1.55,27.30 2.15,23.80 2.70,19.30 3.25,23.80 3.85,27.30 4.70,31.60 5.70,32.80 7.10,32.80 8.12,31.60 8.97,27.30 9.57,22.50 10.12,18.00 10.67,22.50 11.27,27.30 12.12,31.60 13.12,32.80 14.52,32.80 15.54,31.60 16.39,27.30 16.99,22.50 17.54,18.00 18.09,22.50 18.69,27.30 19.54,31.60 20.54,32.80 21.94,32.80 22.96,31.60 23.81,27.30 24.41,23.80 24.96,19.30 25.51,23.80 26.11,27.30 26.96,31.60 27.96,32.80 29.36,32.80 30.38,31.60 31.23,27.30 31.83,22.50 32.38,18.00 32.93,22.50 33.53,27.30 34.38,31.60 35.38,32.80 36.78,32.80 37.80,31.60 38.65,27.30 39.25,22.50 39.80,18.00 40.35,22.50 40.95,27.30 41.80,31.60 42.80,32.80 44.20,32.80 45.22,31.60 46.07,27.30 46.67,23.80 47.22,19.30 47.77,23.80 48.37,27.30 49.22,31.60 50.22,32.80 51.62,32.80 52.64,31.60 53.49,27.30 54.09,22.50 54.64,18.00 55.19,22.50 55.79,27.30 56.64,31.60 57.64,32.80 59.04,32.80 60.06,31.60 60.91,27.30 61.51,22.50 62.06,18.00 62.61,22.50 63.21,27.30 64.06,31.60 65.06,32.80 66.46,32.80 67.48,31.60 68.33,27.30 68.93,23.80 69.48,19.30 70.03,23.80 70.63,27.30 71.48,31.60 72.48,32.80 73.88,32.80 74.90,31.60 75.75,27.30 76.35,22.50 76.90,18.00 77.45,22.50 78.05,27.30 78.90,31.60 79.90,32.80 81.30,32.80 82.32,31.60 83.17,27.30 83.77,22.50 84.32,18.00 84.87,22.50 85.47,27.30 86.32,31.60 86.70,32.00" fill="none" stroke="#c67adf" stroke-width="1.25" stroke-linejoin="round"/>
<line x1="0" y1="39.4" x2="86.7" y2="39.4" stroke="#6a75d6" stroke-width="1.5"/>
</g>
</svg>
<svg class="b" style="left:761.10px;top:601.80px;" width="90.70" height="40.00" viewBox="0 0 90.70 40.00">
<g transform="translate(2,-8)">
<polygon points="0.00,39.50 0.20,39.20 1.20,27.80 1.80,27.80 2.80,39.20 2.95,39.20 4.20,16.90 4.80,16.90 6.05,39.20 19.00,39.20 20.00,38.00 20.60,38.00 21.60,39.20 86.70,39.50" fill="#a05fd6" fill-opacity="0.75" stroke="#cf86ea" stroke-width="1.0" stroke-linejoin="round"/>
<line x1="0" y1="39.5" x2="86.7" y2="39.5" stroke="#b77be0" stroke-width="1.2"/>
</g>
</svg>
<svg class="b" style="left:761.10px;top:665.55px;" width="90.70" height="40.00" viewBox="0 0 90.70 40.00">
<g transform="translate(2,-8)">
<polygon points="0.00,39.60 9.95,39.30 11.20,16.50 11.80,16.50 13.05,39.30 18.20,39.30 19.20,38.60 19.80,38.60 20.80,39.30 40.85,39.30 42.10,27.30 42.70,27.30 43.95,39.30 51.20,39.30 52.20,38.20 52.80,38.20 53.80,39.30 78.70,39.30 79.70,38.60 80.30,38.60 81.30,39.30 86.70,39.60" fill="#a05fd6" fill-opacity="0.75" stroke="#cf86ea" stroke-width="1.0" stroke-linejoin="round"/>
<line x1="0" y1="39.6" x2="86.7" y2="39.6" stroke="#b77be0" stroke-width="1.2"/>
</g>
</svg>
<svg class="b" style="left:761.10px;top:729.30px;" width="90.70" height="40.00" viewBox="0 0 90.70 40.00">
<g transform="translate(2,-8)">
<polygon points="0.00,40.00 14.45,39.70 15.70,24.40 16.30,24.40 17.55,39.70 58.45,39.70 59.70,16.50 60.30,16.50 61.55,39.70 86.70,40.00" fill="#3a63d8" fill-opacity="0.75" stroke="#4a7df0" stroke-width="1.0" stroke-linejoin="round"/>
<line x1="0" y1="40.0" x2="86.7" y2="40.0" stroke="#a673dc" stroke-width="1.2"/>
</g>
</svg>
<div class="b" style="left:945.30px;top:466.30px;width:351.50px;height:57.00px;background:#1e2938;border-radius:9px;"></div>
<svg class="b" style="left:1270.00px;top:490.60px;" width="12.60" height="8.60" viewBox="0 0 12.60 8.60">
<polyline points="2,2 6.30,6.60 10.60,2" fill="none" stroke="#fff" stroke-width="1.7" stroke-linecap="round" stroke-linejoin="round"/>
</svg>
<span class="t" style="left:986.80px;top:489.26px;font-size:12.8px;color:#e7e9ee;letter-spacing:-0.587px;">24-Port Switch</span>
<div class="b" style="left:945.30px;top:530.05px;width:351.50px;height:57.00px;background:#1e2938;border-radius:9px;"></div>
<svg class="b" style="left:1270.00px;top:554.35px;" width="12.60" height="8.60" viewBox="0 0 12.60 8.60">
<polyline points="2,2 6.30,6.60 10.60,2" fill="none" stroke="#fff" stroke-width="1.7" stroke-linecap="round" stroke-linejoin="round"/>
</svg>
<span class="t" style="left:986.80px;top:553.01px;font-size:12.8px;color:#e7e9ee;letter-spacing:-0.896px;">Game Room</span>
<div class="b" style="left:945.30px;top:593.80px;width:351.50px;height:57.00px;background:#1e2938;border-radius:9px;"></div>
<svg class="b" style="left:1270.00px;top:618.10px;" width="12.60" height="8.60" viewBox="0 0 12.60 8.60">
<polyline points="2,2 6.30,6.60 10.60,2" fill="none" stroke="#fff" stroke-width="1.7" stroke-linecap="round" stroke-linejoin="round"/>
</svg>
<span class="t" style="left:986.80px;top:616.76px;font-size:12.8px;color:#e7e9ee;letter-spacing:-0.896px;">Back Room</span>
<div class="b" style="left:945.30px;top:657.55px;width:351.50px;height:57.00px;background:#1e2938;border-radius:9px;"></div>
<svg class="b" style="left:1270.00px;top:681.85px;" width="12.60" height="8.60" viewBox="0 0 12.60 8.60">
<polyline points="2,2 6.30,6.60 10.60,2" fill="none" stroke="#fff" stroke-width="1.7" stroke-linecap="round" stroke-linejoin="round"/>
</svg>
<span class="t" style="left:986.80px;top:680.51px;font-size:12.8px;color:#e7e9ee;letter-spacing:-0.601px;">8-Port Switch</span>
<svg class="b" style="left:1136.40px;top:474.30px;" width="90.70" height="40.00" viewBox="0 0 90.70 40.00">
<g transform="translate(2,-8)">
<defs><linearGradient id="g11" x1="0" y1="0" x2="0" y2="1"><stop offset="0" stop-color="#8a3fc4"/><stop offset="0.55" stop-color="#6a3aa6"/><stop offset="1" stop-color="#2c2f5c" stop-opacity="0.5"/></linearGradient></defs>
<polygon points="0.00,40.20 0.00,32.99 3.93,25.49 6.43,32.99 8.57,30.84 10.00,33.34 12.14,19.77 14.29,32.99 15.71,30.13 17.86,33.34 20.00,33.34 21.43,22.27 23.93,33.34 26.79,33.70 30.36,17.99 32.50,33.34 35.36,33.70 37.86,22.63 40.71,32.99 43.93,33.34 47.86,19.06 50.71,32.99 52.50,31.56 53.93,33.70 55.36,25.84 57.86,33.70 60.00,31.56 61.79,33.70 65.36,19.06 68.21,32.99 71.79,34.06 74.29,19.77 76.43,33.70 80.00,33.70 83.21,16.56 85.71,31.56 86.07,33.34 86.07,40.20" fill="url(#g11)"/>
<polyline points="0.00,32.99 3.93,25.49 6.43,32.99 8.57,30.84 10.00,33.34 12.14,19.77 14.29,32.99 15.71,30.13 17.86,33.34 20.00,33.34 21.43,22.27 23.93,33.34 26.79,33.70 30.36,17.99 32.50,33.34 35.36,33.70 37.86,22.63 40.71,32.99 43.93,33.34 47.86,19.06 50.71,32.99 52.50,31.56 53.93,33.70 55.36,25.84 57.86,33.70 60.00,31.56 61.79,33.70 65.36,19.06 68.21,32.99 71.79,34.06 74.29,19.77 76.43,33.70 80.00,33.70 83.21,16.56 85.71,31.56 86.07,33.34" fill="none" stroke="#c67adf" stroke-width="1.3" stroke-linejoin="round"/>
</g>
</svg>
<svg class="b" style="left:1136.40px;top:538.05px;" width="90.70" height="40.00" viewBox="0 0 90.70 40.00">
<g transform="translate(2,-8)">
<polygon points="0.00,39.60 2.90,39.00 4.25,29.00 4.95,29.00 6.30,39.00 11.06,39.00 13.01,16.60 13.71,16.60 15.66,39.00 20.42,39.00 21.77,29.00 22.47,29.00 23.82,39.00 28.58,39.00 30.53,16.60 31.23,16.60 33.18,39.00 37.94,39.00 39.29,29.00 39.99,29.00 41.34,39.00 46.10,39.00 48.05,16.60 48.75,16.60 50.70,39.00 55.46,39.00 56.81,29.00 57.51,29.00 58.86,39.00 63.62,39.00 65.57,16.60 66.27,16.60 68.22,39.00 72.98,39.00 74.33,29.00 75.03,29.00 76.38,39.00 81.14,39.00 83.09,16.60 83.79,16.60 85.74,39.00 86.70,39.60" fill="#3f6fe2" stroke="#4a7df0" stroke-width="0.7" stroke-linejoin="round"/>
<line x1="0" y1="39.6" x2="86.7" y2="39.6" stroke="#a673dc" stroke-width="1.2"/>
</g>
</svg>
<svg class="b" style="left:1136.40px;top:601.80px;" width="90.70" height="40.00" viewBox="0 0 90.70 40.00">
<g transform="translate(2,-8)">
<polygon points="0.00,39.40 9.75,39.10 11.00,16.80 11.60,16.80 12.85,39.10 14.60,39.10 15.60,31.90 16.20,31.90 17.20,39.10 40.50,39.10 41.50,30.60 42.10,30.60 43.10,39.10 46.70,39.10 47.70,38.40 48.30,38.40 49.30,39.10 58.50,39.10 59.50,31.30 60.10,31.30 61.10,39.10 73.70,39.10 74.70,38.40 75.30,38.40 76.30,39.10 86.70,39.40" fill="#3a63d8" fill-opacity="0.75" stroke="#4a7df0" stroke-width="1.0" stroke-linejoin="round"/>
<line x1="0" y1="39.4" x2="86.7" y2="39.4" stroke="#a673dc" stroke-width="1.2"/>
</g>
</svg>
<svg class="b" style="left:1136.40px;top:665.55px;" width="90.70" height="40.00" viewBox="0 0 90.70 40.00">
<g transform="translate(2,-8)">
<polygon points="0.00,39.50 9.75,39.20 11.00,17.10 11.60,17.10 12.85,39.20 14.60,39.20 15.60,31.50 16.20,31.50 17.20,39.20 40.50,39.20 41.50,30.80 42.10,30.80 43.10,39.20 58.50,39.20 59.50,31.50 60.10,31.50 61.10,39.20 69.00,39.20 70.00,36.50 70.60,36.50 71.60,39.20 74.80,39.20 75.80,34.20 76.40,34.20 77.40,39.20 86.70,39.50" fill="#a05fd6" fill-opacity="0.75" stroke="#cf86ea" stroke-width="1.0" stroke-linejoin="round"/>
<line x1="0" y1="39.5" x2="86.7" y2="39.5" stroke="#b77be0" stroke-width="1.2"/>
</g>
</svg>
<div class="b" style="left:958.00px;top:493.30px;width:19.00px;height:2.40px;background:#7f8590;border-radius:1.2px;"></div>
<div class="b" style="left:958.00px;top:493.30px;width:7.00px;height:2.40px;background:#b9bdc6;border-radius:1.2px;"></div>
<div class="b" style="left:960.70px;top:547.45px;width:13.10px;height:20.40px;background:#f1effa;border-radius:3.5px 3.5px 6.6px 6.6px;"></div>
<div class="b" style="left:960.70px;top:547.45px;width:13.10px;height:6.10px;background:#4b31b4;border-radius:3.5px 3.5px 0 0;"></div>
<div class="b" style="left:963.20px;top:549.55px;width:7.60px;height:2.60px;background:#c9b9ff;border-radius:1px;"></div>
<div class="b" style="left:960.70px;top:611.20px;width:13.10px;height:20.40px;background:#f1effa;border-radius:3.5px 3.5px 6.6px 6.6px;"></div>
<div class="b" style="left:960.70px;top:611.20px;width:13.10px;height:6.10px;background:#4b31b4;border-radius:3.5px 3.5px 0 0;"></div>
<div class="b" style="left:963.20px;top:613.30px;width:7.60px;height:2.60px;background:#c9b9ff;border-radius:1px;"></div>
<div class="b" style="left:957.80px;top:684.45px;width:19.60px;height:3.20px;background:#f3f4f6;border-radius:1.6px;"></div>
<div class="b" style="left:960.50px;top:685.45px;width:14.00px;height:1.20px;background:#aeb3bd;border-radius:0.6px;"></div>
<!-- phone -->
<div class="b" style="left:0.00px;top:349.00px;width:5.00px;height:19.00px;background:#2b2b2d;border-radius:1px;"></div>
<div class="b" style="left:0.00px;top:396.00px;width:5.00px;height:46.50px;background:#2b2b2d;border-radius:1px;"></div>
<div class="b" style="left:0.00px;top:457.50px;width:5.00px;height:46.00px;background:#2b2b2d;border-radius:1px;"></div>
<div class="b" style="left:2.70px;top:250.30px;width:307.00px;height:635.20px;background:#1a1a1b;border-radius:48px;border:1px solid #303032;box-sizing:border-box;"></div>
<div class="b" style="left:16.00px;top:263.00px;width:279.50px;height:610.00px;background:#000;border-radius:34px;"></div>
<div class="b" style="left:16.00px;top:255.60px;width:279.50px;height:46.00px;background:#0f1013;border-radius:40px 40px 0 0;"></div>
<div class="b" style="left:138.30px;top:271.60px;width:35.40px;height:4.40px;background:#29292b;border-radius:2.2px;"></div>
<div class="b" style="left:181.60px;top:268.40px;width:10.80px;height:10.80px;background:#1f1f22;border-radius:5.4px;border:1.5px solid #2b2b2e;box-sizing:border-box;"></div>
<span class="t" style="left:40.70px;top:275.38px;font-size:11.6px;color:#f2f2f2;font-weight:700;letter-spacing:-0.339px;">9:41</span>
<svg class="b" style="left:234.00px;top:275.00px;" width="54.00" height="13.00" viewBox="0 0 54.00 13.00">
<g fill="#f4f4f4"><rect x="1" y="8.6" width="2.2" height="2.2" rx="0.5"/><rect x="4.4" y="6.6" width="2.2" height="4.2" rx="0.5"/><rect x="7.8" y="4.5" width="2.2" height="6.3" rx="0.5"/><rect x="11.3" y="2.3" width="2.3" height="8.5" rx="0.5"/><rect x="33.4" y="3.8" width="15.8" height="6.4" rx="1.8"/><rect x="49.8" y="5.8" width="1.2" height="2.4" rx="0.5"/></g><g fill="none" stroke="#f4f4f4" stroke-width="1.5" stroke-linecap="round"><path d="M18.1,5.3 Q23,1.2 27.9,5.3"/><path d="M20.2,7.6 Q23,5.3 25.8,7.6"/></g><circle cx="23" cy="9.7" r="1.1" fill="#f4f4f4"/>
</svg>
<div class="b" style="left:16.00px;top:291.80px;width:279.50px;height:39.10px;background:#6c37f3;"></div>
<svg class="b" style="left:28.00px;top:308.00px;" width="18.00" height="18.00" viewBox="0 0 18.00 18.00">
<circle cx="8.6" cy="8.5" r="7.2" fill="#e2d3ff"/><g fill="none" stroke="#6c37f3" stroke-width="0.9"><ellipse cx="8.6" cy="8.5" rx="3.2" ry="7.2"/><line x1="8.6" y1="1.3" x2="8.6" y2="15.7"/><line x1="1.4" y1="8.5" x2="15.8" y2="8.5"/><path d="M2.6,4.8 H14.6 M2.6,12.2 H14.6"/></g>
</svg>
<span class="t" style="left:50.30px;top:308.16px;font-size:15.4px;color:#f0e2ff;font-weight:700;letter-spacing:-1.078px;">Corp</span>
<svg class="b" style="left:266.00px;top:307.00px;" width="18.00" height="18.00" viewBox="0 0 18.00 18.00">
<circle cx="9" cy="9" r="6.7" fill="none" stroke="#ecdfff" stroke-width="1.5"/><circle cx="9" cy="7.3" r="2.5" fill="#ecdfff"/><path d="M4.2,13.4 Q9,8.6 13.8,13.4 Q9,17 4.2,13.4Z" fill="#ecdfff"/>
</svg>
<div class="b" style="left:27.40px;top:350.40px;width:256.00px;height:27.40px;border-radius:4px;border:1px solid #2d2d30;box-sizing:border-box;"></div>
<div class="b" style="left:27.40px;top:350.40px;width:65.20px;height:27.40px;background:#ece7fd;border-radius:4px;"></div>
<span class="t" style="left:52.75px;top:360.23px;font-size:8.0px;color:#6b4fca;font-weight:700;letter-spacing:-0.503px;">Live</span>
<span class="t" style="left:119.01px;top:360.40px;font-size:7.8px;color:#f4f4f4;font-weight:700;">1H</span>
<span class="t" style="left:182.01px;top:360.40px;font-size:7.8px;color:#f4f4f4;font-weight:700;">2D</span>
<span class="t" style="left:245.98px;top:360.40px;font-size:7.8px;color:#f4f4f4;font-weight:700;">2M</span>
<div class="b" style="left:27.30px;top:392.10px;width:255.00px;height:88.30px;background:#1d1d1f;border-radius:9px;"></div>
<span class="t" style="left:34.30px;top:405.34px;font-size:7.4px;color:#7a52f5;font-weight:700;letter-spacing:-0.196px;">Show Peak</span>
<svg class="b" style="left:25.00px;top:388.00px;" width="260.00" height="96.00" viewBox="0 0 260.00 96.00">
<polygon points="7.80,68.71 37.14,68.52 46.43,67.60 55.71,68.15 65.00,67.60 69.64,66.30 74.28,66.85 77.99,64.62 83.57,64.07 87.28,37.14 90.44,15.78 92.85,42.71 95.64,55.71 98.42,57.94 100.28,54.97 103.06,62.77 106.78,63.88 111.42,66.11 116.06,63.14 119.78,65.92 129.99,66.48 141.13,67.97 163.42,67.97 167.13,67.04 172.70,67.97 181.99,66.85 187.56,67.97 196.84,66.67 204.27,67.97 217.27,65.55 220.98,67.97 233.98,67.22 241.41,67.60 244.75,63.14 246.98,57.94 248.84,64.07 250.70,68.34 253.48,68.71" fill="#51448a" stroke="#63549f" stroke-width="0.8" stroke-linejoin="round"/>
<polyline points="97.5,65 99.2,56.5 101,59 103.2,63.2" fill="none" stroke="#8a4f8a" stroke-width="0.8"/>
<line x1="7.8" y1="68.7" x2="253.5" y2="68.7" stroke="#4c3d7c" stroke-width="1"/>
</svg>
<span class="t" style="left:147.90px;top:464.89px;font-size:8.4px;color:#f4f4f4;font-weight:700;letter-spacing:-0.347px;">Download</span>
<div class="b" style="left:190.60px;top:462.30px;width:24.60px;height:14.00px;background:#232325;border-radius:2.5px;"></div>
<span class="t" style="left:194.40px;top:464.97px;font-size:8.3px;color:#8e8e92;letter-spacing:-0.279px;">0 B/s</span>
<span class="t" style="left:220.90px;top:464.89px;font-size:8.4px;color:#f4f4f4;font-weight:700;letter-spacing:-0.313px;">Upload</span>
<div class="b" style="left:253.20px;top:462.30px;width:24.60px;height:14.00px;background:#232325;border-radius:2.5px;"></div>
<span class="t" style="left:256.80px;top:464.97px;font-size:8.3px;color:#8e8e92;letter-spacing:-0.229px;">0 B/s</span>
<span class="t" style="left:27.90px;top:511.64px;font-size:13.3px;color:#f4f4f4;font-weight:700;letter-spacing:-0.342px;">Top Active Network Devices</span>
<div class="b" style="left:27.00px;top:533.20px;width:268.50px;height:1.00px;background:#27272a;"></div>
<div class="b" style="left:174.90px;top:541.40px;width:98.10px;height:35.40px;background:#212123;border-radius:3px;"></div>
<svg class="b" style="left:174.90px;top:541.40px;" width="98.10" height="35.40" viewBox="0 0 98.10 35.40">
<polygon points="2.00,33.60 14.67,33.60 15.75,13.00 16.25,13.00 17.33,33.60 23.74,33.60 24.85,11.90 25.35,11.90 26.46,33.60 37.48,33.60 38.65,9.60 39.15,9.60 40.32,33.60 40.50,33.60 41.25,24.60 41.75,24.60 42.50,33.60 43.55,33.60 44.25,26.60 44.75,26.60 45.45,33.60 46.35,33.60 47.75,1.60 48.25,1.60 49.65,33.60 61.61,33.60 62.65,14.20 63.15,14.20 64.19,33.60 64.44,33.60 65.25,22.60 65.75,22.60 66.56,33.60 68.70,33.60 69.45,24.50 69.95,24.50 70.70,33.60 83.31,33.60 84.35,14.20 84.85,14.20 85.89,33.60 86.55,33.60 87.25,26.60 87.75,26.60 88.45,33.60 89.33,33.60 90.05,25.60 90.55,25.60 91.27,33.60 92.76,33.60 93.45,26.70 93.95,26.70 94.64,33.60 96.00,33.60" fill="#2f4a9c" fill-opacity="0.9"/>
<polygon points="2.00,33.60 10.18,33.60 10.75,31.10 11.25,31.10 11.82,33.60 29.19,33.60 29.75,31.60 30.25,31.60 30.81,33.60 54.19,33.60 54.75,31.60 55.25,31.60 55.81,33.60 75.18,33.60 75.75,31.10 76.25,31.10 76.82,33.60 96.00,33.60" fill="#7d48b4" fill-opacity="0.9"/>
<line x1="2" y1="34.0" x2="96" y2="34.0" stroke="#7a47ae" stroke-width="1.1"/>
</svg>
<span class="t" style="left:178.30px;top:544.92px;font-size:7.3px;color:#7a52f5;font-weight:700;letter-spacing:-0.118px;">Show Peak</span>
<div class="b" style="left:32.00px;top:548.70px;width:14.40px;height:22.20px;background:#f1f1f4;border-radius:5.8px;"></div>
<div class="b" style="left:38.80px;top:553.90px;width:0.90px;height:10.00px;background:#dadae0;"></div>
<span class="t" style="left:52.00px;top:555.51px;font-size:7.9px;color:#f4f4f4;font-weight:700;letter-spacing:-0.401px;">C - Sales Floor</span>
<div class="b" style="left:50.70px;top:585.00px;width:244.80px;height:1.00px;background:#27272a;"></div>
<div class="b" style="left:174.90px;top:593.95px;width:98.10px;height:35.40px;background:#212123;border-radius:3px;"></div>
<svg class="b" style="left:174.90px;top:593.95px;" width="98.10" height="35.40" viewBox="0 0 98.10 35.40">
<line x1="2" y1="34.0" x2="96" y2="34.0" stroke="#7a47ae" stroke-width="1.1"/>
</svg>
<span class="t" style="left:178.30px;top:597.47px;font-size:7.3px;color:#7a52f5;font-weight:700;letter-spacing:-0.118px;">Show Peak</span>
<div class="b" style="left:32.00px;top:601.25px;width:14.40px;height:22.20px;background:#f1f1f4;border-radius:5.8px;"></div>
<div class="b" style="left:38.80px;top:606.45px;width:0.90px;height:10.00px;background:#dadae0;"></div>
<span class="t" style="left:52.00px;top:608.06px;font-size:7.9px;color:#f4f4f4;font-weight:700;letter-spacing:-0.501px;">B - Warehouse</span>
<div class="b" style="left:50.70px;top:637.55px;width:244.80px;height:1.00px;background:#27272a;"></div>
<div class="b" style="left:174.90px;top:646.50px;width:98.10px;height:35.40px;background:#212123;border-radius:3px;"></div>
<svg class="b" style="left:174.90px;top:646.50px;" width="98.10" height="35.40" viewBox="0 0 98.10 35.40">
<polygon points="2.00,33.60 44.58,33.60 45.75,9.60 46.25,9.60 47.42,33.60 56.49,33.60 57.75,6.60 58.25,6.60 59.51,33.60 64.52,33.60 65.75,7.60 66.25,7.60 67.48,33.60 68.86,33.60 69.75,19.60 70.25,19.60 71.14,33.60 74.47,33.60 75.75,5.60 76.25,5.60 77.53,33.60 81.41,33.60 82.75,3.60 83.25,3.60 84.59,33.60 86.83,33.60 87.75,18.60 88.25,18.60 89.17,33.60 92.63,33.60 93.75,11.60 94.25,11.60 95.37,33.60 96.00,33.60" fill="#2f4a9c" fill-opacity="0.9"/>
<polygon points="2.00,33.60 3.23,33.60 4.04,22.60 4.54,22.60 5.35,33.60 7.25,33.60 7.97,25.60 8.47,25.60 9.20,33.60 10.32,33.60 11.44,11.60 11.94,11.60 13.05,33.60 14.20,33.60 15.31,11.60 15.81,11.60 16.93,33.60 18.00,33.60 19.12,11.60 19.62,11.60 20.74,33.60 22.43,33.60 23.16,25.60 23.66,25.60 24.38,33.60 26.55,33.60 27.27,25.60 27.77,25.60 28.49,33.60 29.77,33.60 30.89,11.60 31.39,11.60 32.50,33.60 33.65,33.60 34.96,4.60 35.46,4.60 36.77,33.60 38.17,33.60 38.98,22.60 39.48,22.60 40.29,33.60 41.79,33.60 42.91,11.60 43.41,11.60 44.52,33.60 46.02,33.60 47.14,11.60 47.64,11.60 48.75,33.60 49.83,33.60 50.55,25.60 51.05,25.60 51.78,33.60 54.15,33.60 54.87,25.60 55.37,25.60 56.10,33.60 57.41,33.60 58.22,22.60 58.72,22.60 59.53,33.60 60.94,33.60 61.75,22.60 62.25,22.60 63.06,33.60 64.78,33.60 65.90,11.60 66.40,11.60 67.51,33.60 68.16,33.60 69.47,4.60 69.97,4.60 71.28,33.60 73.04,33.60 73.77,25.60 74.27,25.60 74.99,33.60 76.27,33.60 77.50,7.60 78.00,7.60 79.23,33.60 80.15,33.60 80.88,25.60 81.38,25.60 82.10,33.60 84.43,33.60 85.16,25.60 85.66,25.60 86.38,33.60 87.91,33.60 89.03,11.60 89.53,11.60 90.64,33.60 91.22,33.60 92.45,7.60 92.95,7.60 94.18,33.60 96.00,33.60" fill="#7d48b4" fill-opacity="0.9"/>
<line x1="2" y1="34.0" x2="96" y2="34.0" stroke="#7a47ae" stroke-width="1.1"/>
</svg>
<span class="t" style="left:178.30px;top:650.02px;font-size:7.3px;color:#7a52f5;font-weight:700;letter-spacing:-0.118px;">Show Peak</span>
<div class="b" style="left:31.60px;top:663.10px;width:15.00px;height:2.70px;background:#f1f1f3;border-radius:1.3px;"></div>
<div class="b" style="left:34.00px;top:664.05px;width:10.50px;height:0.80px;background:#8a8a92;"></div>
<span class="t" style="left:52.00px;top:660.61px;font-size:7.9px;color:#f4f4f4;font-weight:700;letter-spacing:-0.317px;">C - 8 Port Switch</span>
<div class="b" style="left:50.70px;top:690.10px;width:244.80px;height:1.00px;background:#27272a;"></div>
<div class="b" style="left:174.90px;top:699.05px;width:98.10px;height:35.40px;background:#212123;border-radius:3px;"></div>
<svg class="b" style="left:174.90px;top:699.05px;" width="98.10" height="35.40" viewBox="0 0 98.10 35.40">
<polygon points="2.00,33.60 10.07,33.60 11.15,13.00 11.65,13.00 12.73,33.60 15.08,33.60 15.75,27.60 16.25,27.60 16.92,33.60 22.93,33.60 23.75,22.20 24.25,22.20 25.07,33.60 28.11,33.60 28.75,28.60 29.25,28.60 29.89,33.60 35.24,33.60 36.35,11.90 36.85,11.90 37.96,33.60 39.97,33.60 40.85,19.90 41.35,19.90 42.23,33.60 45.83,33.60 46.65,22.20 47.15,22.20 47.97,33.60 51.08,33.60 51.75,27.60 52.25,27.60 52.92,33.60 57.75,33.60 59.15,1.60 59.65,1.60 61.05,33.60 62.80,33.60 63.75,17.60 64.25,17.60 65.20,33.60 68.63,33.60 69.45,22.20 69.95,22.20 70.77,33.60 74.08,33.60 74.75,27.60 75.25,27.60 75.92,33.60 80.68,33.60 82.05,2.70 82.55,2.70 83.92,33.60 86.87,33.60 87.75,19.90 88.25,19.90 89.13,33.60 92.61,33.60 93.75,10.70 94.25,10.70 95.39,33.60 96.00,33.60" fill="#2f4a9c" fill-opacity="0.9"/>
<polygon points="2.00,33.60 7.17,33.60 7.75,30.60 8.25,30.60 8.83,33.60 19.14,33.60 19.75,29.60 20.25,29.60 20.86,33.60 32.17,33.60 32.75,30.60 33.25,30.60 33.83,33.60 54.14,33.60 54.75,29.60 55.25,29.60 55.86,33.60 77.17,33.60 77.75,30.60 78.25,30.60 78.83,33.60 90.14,33.60 90.75,29.60 91.25,29.60 91.86,33.60 96.00,33.60" fill="#7d48b4" fill-opacity="0.9"/>
<line x1="2" y1="34.0" x2="96" y2="34.0" stroke="#7a47ae" stroke-width="1.1"/>
</svg>
<span class="t" style="left:178.30px;top:702.57px;font-size:7.3px;color:#7a52f5;font-weight:700;letter-spacing:-0.118px;">Show Peak</span>
<div class="b" style="left:32.00px;top:706.35px;width:14.40px;height:22.20px;background:#f1f1f4;border-radius:5.8px;"></div>
<div class="b" style="left:38.80px;top:711.55px;width:0.90px;height:10.00px;background:#dadae0;"></div>
<span class="t" style="left:52.00px;top:713.16px;font-size:7.9px;color:#f4f4f4;font-weight:700;letter-spacing:-0.360px;">C - Support</span>
<div class="b" style="left:50.70px;top:742.65px;width:244.80px;height:1.00px;background:#27272a;"></div>
<div class="b" style="left:174.90px;top:751.60px;width:98.10px;height:35.40px;background:#212123;border-radius:3px;"></div>
<svg class="b" style="left:174.90px;top:751.60px;" width="98.10" height="35.40" viewBox="0 0 98.10 35.40">
<polygon points="2.00,33.60 10.07,33.60 11.15,13.00 11.65,13.00 12.73,33.60 34.01,33.60 35.15,10.70 35.65,10.70 36.79,33.60 57.75,33.60 59.15,1.60 59.65,1.60 61.05,33.60 69.80,33.60 70.65,21.00 71.15,21.00 72.00,33.60 79.43,33.60 80.85,0.60 81.35,0.60 82.77,33.60 83.66,33.60 84.35,26.70 84.85,26.70 85.54,33.60 93.64,33.60 94.65,15.30 95.15,15.30 96.16,33.60 96.00,33.60" fill="#2f4a9c" fill-opacity="0.9"/>
<polygon points="2.00,33.60 13.17,33.60 13.75,30.60 14.25,30.60 14.83,33.60 24.18,33.60 24.75,31.10 25.25,31.10 25.82,33.60 36.55,33.60 37.25,26.60 37.75,26.60 38.45,33.60 46.17,33.60 46.75,30.60 47.25,30.60 47.83,33.60 60.58,33.60 61.25,27.60 61.75,27.60 62.42,33.60 73.17,33.60 73.75,30.60 74.25,30.60 74.83,33.60 87.14,33.60 87.75,29.60 88.25,29.60 88.86,33.60 96.00,33.60" fill="#7d48b4" fill-opacity="0.9"/>
<line x1="2" y1="34.0" x2="96" y2="34.0" stroke="#7a47ae" stroke-width="1.1"/>
</svg>
<span class="t" style="left:178.30px;top:755.12px;font-size:7.3px;color:#7a52f5;font-weight:700;letter-spacing:-0.118px;">Show Peak</span>
<div class="b" style="left:32.00px;top:758.90px;width:14.40px;height:22.20px;background:#f1f1f4;border-radius:5.8px;"></div>
<div class="b" style="left:38.80px;top:764.10px;width:0.90px;height:10.00px;background:#dadae0;"></div>
<span class="t" style="left:52.00px;top:765.71px;font-size:7.9px;color:#f4f4f4;font-weight:700;letter-spacing:-0.474px;">C - Break Room</span>
<div class="b" style="left:50.70px;top:795.20px;width:244.80px;height:1.00px;background:#27272a;"></div>
<div class="b" style="left:174.90px;top:804.15px;width:98.10px;height:32.55px;background:#212123;border-radius:3px;"></div>
<svg class="b" style="left:174.90px;top:804.15px;" width="98.10" height="32.55" viewBox="0 0 98.10 32.55">
<polygon points="2.00,33.60 2.72,33.60 3.78,13.60 4.28,13.60 5.34,33.60 6.19,33.60 7.11,18.60 7.61,18.60 8.53,33.60 6.16,33.60 7.25,12.60 7.75,12.60 8.84,33.60 10.47,33.60 11.27,22.60 11.77,22.60 12.58,33.60 13.14,33.60 14.20,13.60 14.70,13.60 15.76,33.60 16.57,33.60 17.63,13.60 18.13,13.60 19.19,33.60 20.32,33.60 21.24,18.60 21.74,18.60 22.66,33.60 23.99,33.60 24.85,20.60 25.35,20.60 26.21,33.60 25.69,33.60 26.75,13.60 27.25,13.60 28.31,33.60 28.00,33.60 28.98,16.60 29.48,16.60 30.45,33.60 31.18,33.60 32.10,18.60 32.60,18.60 33.52,33.60 35.51,33.60 36.18,27.60 36.68,27.60 37.35,33.60 38.51,33.60 39.26,24.60 39.76,24.60 40.51,33.60 42.31,33.60 43.06,24.60 43.56,24.60 44.31,33.60 53.24,33.60 53.91,27.60 54.41,27.60 55.08,33.60 56.34,33.60 57.26,18.60 57.76,18.60 58.68,33.60 59.78,33.60 60.84,13.60 61.34,13.60 62.40,33.60 62.94,33.60 63.91,16.60 64.41,16.60 65.39,33.60 73.63,33.60 74.75,11.60 75.25,11.60 76.37,33.60 74.38,33.60 75.05,27.60 75.55,27.60 76.21,33.60 77.83,33.60 78.64,22.60 79.14,22.60 79.95,33.60 80.85,33.60 81.82,16.60 82.32,16.60 83.30,33.60 83.99,33.60 84.96,16.60 85.46,16.60 86.44,33.60 86.63,33.60 87.75,11.60 88.25,11.60 89.37,33.60 88.18,33.60 89.15,16.60 89.65,16.60 90.63,33.60 91.60,33.60 92.58,16.60 93.08,16.60 94.05,33.60 96.00,33.60" fill="#7d48b4" fill-opacity="0.9"/>
<line x1="2" y1="34.0" x2="96" y2="34.0" stroke="#7a47ae" stroke-width="1.1"/>
</svg>
<span class="t" style="left:178.30px;top:807.67px;font-size:7.3px;color:#7a52f5;font-weight:700;letter-spacing:-0.118px;">Show Peak</span>
<div class="b" style="left:31.60px;top:821.35px;width:14.40px;height:1.50px;background:#d7d7dc;border-radius:0.8px;"></div>
<span class="t" style="left:52.00px;top:818.26px;font-size:7.9px;color:#f4f4f4;font-weight:700;letter-spacing:-0.452px;">B - Closet Switch</span>
<div class="b" style="left:16.00px;top:836.20px;width:279.50px;height:36.80px;background:#161617;border-radius:0 0 34px 34px;"></div>
<svg class="b" style="left:41.30px;top:839.00px;" width="18.00" height="18.00" viewBox="0 0 18.00 18.00">
<g fill="none" stroke="#4a36b8" stroke-width="1.3" stroke-linecap="round"><circle cx="9" cy="9" r="6.8"/><path d="M4.8,9 A4.2,4.2 0 0 1 9,4.8"/><line x1="8.6" y1="9.6" x2="12" y2="5.8"/></g><circle cx="8.5" cy="9.7" r="1.2" fill="#4a36b8"/>
</svg>
<svg class="b" style="left:112.00px;top:839.00px;" width="18.00" height="18.00" viewBox="0 0 18.00 18.00">
<g fill="none" stroke="#4c4c50" stroke-width="1.2" stroke-linecap="round"><rect x="2" y="11.4" width="14" height="4.4" rx="1.5"/><line x1="9" y1="7.6" x2="9" y2="11.2"/><path d="M4.6,2.2 Q1.2,6.4 3.8,10.4"/><path d="M13.4,2.2 Q16.8,6.4 14.2,10.4"/><path d="M7,4 Q4.9,6.8 6.4,9.6"/><path d="M11,4 Q13.1,6.8 11.6,9.6"/></g>
</svg>
<svg class="b" style="left:182.00px;top:839.00px;" width="19.00" height="18.00" viewBox="0 0 19.00 18.00">
<g fill="none" stroke="#4c4c50" stroke-width="1.2" stroke-linecap="round" stroke-linejoin="round"><path d="M7.2,4.6 H3.2 Q2.3,4.6 2.3,5.5 V10.7 Q2.3,11.6 3.2,11.6 H7"/><line x1="4.6" y1="14.2" x2="7" y2="14.2"/><rect x="9.3" y="2.9" width="7.2" height="11.6" rx="1.7"/></g><circle cx="12.9" cy="10.6" r="1.3" fill="#4c4c50"/>
</svg>
<svg class="b" style="left:252.30px;top:839.00px;" width="18.00" height="18.00" viewBox="0 0 18.00 18.00">
<path d="M7.87,2.85 Q9.00,0.60 10.12,2.85 Q11.25,5.10 13.76,4.95 Q16.27,4.80 14.89,6.90 Q13.50,9.00 14.89,11.10 Q16.27,13.20 13.76,13.05 Q11.25,12.90 10.12,15.15 Q9.00,17.40 7.88,15.15 Q6.75,12.90 4.24,13.05 Q1.73,13.20 3.11,11.10 Q4.50,9.00 3.11,6.90 Q1.73,4.80 4.24,4.95 Q6.75,5.10 7.87,2.85Z" fill="none" stroke="#4c4c50" stroke-width="1.2" stroke-linejoin="round"/><circle cx="9" cy="9" r="2" fill="none" stroke="#4c4c50" stroke-width="1.2"/>
</svg>
<span class="t" style="left:32.80px;top:860.67px;font-size:7.0px;color:#4a36b8;letter-spacing:0.094px;">Dashboard</span>
<span class="t" style="left:248.05px;top:860.67px;font-size:7.0px;color:#4c4c50;letter-spacing:0.172px;">Settings</span>
<div class="b" style="left:106.30px;top:861.40px;width:100.60px;height:4.40px;background:#fdfdfd;border-radius:2.2px;"></div>
<div class="b" style="left:50.00px;top:870.80px;width:220.00px;height:0.90px;background:#262628;"></div>
</div></body></html>
